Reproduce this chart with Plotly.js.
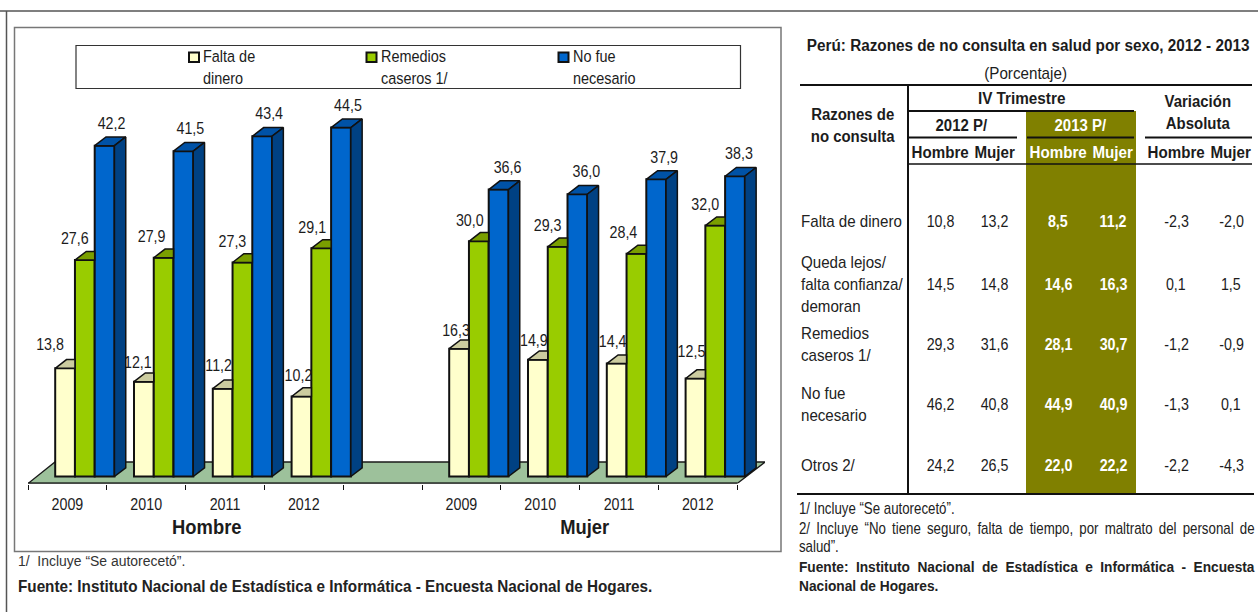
<!DOCTYPE html>
<html><head><meta charset="utf-8">
<script src="https://cdn.plot.ly/plotly-3.0.1.min.js"></script>
<style>html,body{margin:0;padding:0;background:#fff;overflow:hidden}</style>
</head><body><div id="chart" style="width:1258px;height:612px"></div>
<script>
// ---------- chart data ----------
const years = ['2009','2010','2011','2012','2009','2010','2011','2012'];
const slots = [0,1,2,3,5,6,7,8];
const groupNames = ['Hombre','Mujer'];
const faltaDinero = [13.8,12.1,11.2,10.2,16.3,14.9,14.4,12.5];
const remedios    = [27.6,27.9,27.3,29.1,30.0,29.3,28.4,32.0];
const noFue       = [42.2,41.5,43.4,44.5,36.6,36.0,37.9,38.3];
const legendNames = ['Falta de<br>dinero','Remedios<br>caseros 1/','No fue<br>necesario'];
// ---------- table data ----------
const rowLabels = ['Falta de dinero','Queda lejos/<br>falta confianza/<br>demoran','Remedios<br>caseros 1/','No fue<br>necesario','Otros 2/'];
const hombre2012 = [10.8,14.5,29.3,46.2,24.2];
const mujer2012  = [13.2,14.8,31.6,40.8,26.5];
const hombre2013 = [8.5,14.6,28.1,44.9,22.0];
const mujer2013  = [11.2,16.3,30.7,40.9,22.2];
const varHombre  = [-2.3,0.1,-1.2,-1.3,-2.2];
const varMujer   = [-2.0,1.5,-0.9,0.1,-4.3];

// ---------- layout constants ----------
const FONT = '"Liberation Sans",Arial,sans-serif';
const INK = '#1c1c1c';
const PX_X = 78.8, PX_Y = 7.84;            // pixels per axis unit
const BASE_PX = 476.5;
const DX = 11.3/PX_X, DY = 8.7/PX_Y;       // depth of the 3D effect
const BAR_W = 19.75/PX_X, BAR_START = 27.2/PX_X;
const NARROW = 0.84;                       // horizontal squeeze of the condensed look
const fmt = v => v.toFixed(1).replace('.',',');
const px = x => x/1258, py = y => 1-y/612;

const seriesVals = [faltaDinero, remedios, noFue];
const fronts = ['#FFFFCC','#99CC00','#0066CC'];
const tops   = ['#CCCC9F','#7A9F00','#0052A6'];
const sideBlue = '#004183';
const nudgeX = [[-15,-6,-4,-3,-3,-4,-4,-4],[-10,-12,-10,-9,-9,-10,-13,-10],[7,7,7,7,9,9,8,4]];
const lift   = [[23,18,22,20,17,18,21,26],[20,20,20,20,20,20,20,20],[21,21,21,21,21,21,21,21]];

const traces = [];
// front faces
seriesVals.forEach((vals,s)=>{
  traces.push({type:'bar',name:legendNames[s].replace('<br>',' '),x:slots.map(k=>k+BAR_START+(s+0.5)*BAR_W),y:vals,width:BAR_W,
    marker:{color:fronts[s],line:{color:'#111',width:2}},showlegend:false});
});
// data labels
seriesVals.forEach((vals,s)=>{
  traces.push({type:'scatter',mode:'text',x:slots.map((k,i)=>k+BAR_START+(s+0.5)*BAR_W+nudgeX[s][i]/PX_X),
    y:vals.map((v,i)=>v+lift[s][i]/PX_Y),text:vals.map(fmt),textposition:'middle center',
    textfont:{family:FONT,size:17,color:INK},hoverinfo:'skip',showlegend:false,cliponaxis:false});
});
// top and side faces
seriesVals.forEach((vals,s)=>{
  vals.forEach((v,i)=>{
    const a = slots[i]+BAR_START+s*BAR_W, b = a+BAR_W;
    const xsTop = s<2 ? [a,a+DX,b,b,a] : [a,a+DX,b+DX,b,a];
    traces.push({type:'scatter',mode:'lines',x:xsTop,y:[v,v+DY,v+DY,v,v],fill:'toself',fillcolor:tops[s],
      line:{color:'#111',width:1.5},hoverinfo:'skip',showlegend:false});
    if(s===2){
      traces.push({type:'scatter',mode:'lines',x:[b,b+DX,b+DX,b,b],y:[0,DY,v+DY,v,0],fill:'toself',fillcolor:sideBlue,
        line:{color:'#111',width:1.5},hoverinfo:'skip',showlegend:false});
    }
  });
});

// ---------- annotations & shapes ----------
const ann = [], annSqueeze = [], annJustify = [];
function T(x,y,text,o={}){
  ann.push({xref:'paper',yref:'paper',x:px(x),y:py(y),text,showarrow:false,xanchor:o.a||'center',yanchor:'middle',
    align:o.a==='left'?'left':'center',font:{family:FONT,size:o.s||17,color:o.c||INK},borderpad:0});
  annSqueeze.push(o.w||NARROW);
  annJustify.push(o.j||0);
}
const b = t=>'<b>'+t+'</b>';
const shapes = [];
function L(x0,y0,x1,y1,w=2,c='#111'){
  shapes.push({type:'line',xref:'paper',yref:'paper',x0:px(x0),y0:py(y0),x1:px(x1),y1:py(y1),line:{color:c,width:w},layer:'above'});
}
function R(x0,y0,x1,y1,fill,lc,lw,layer){
  shapes.push({type:'rect',xref:'paper',yref:'paper',x0:px(x0),y0:py(y0),x1:px(x1),y1:py(y1),fillcolor:fill,line:{color:lc,width:lw},layer:layer||'below'});
}
// frames
L(0,11,1258,11,1.5,'#555'); L(6.5,11,6.5,612,1.5,'#555');
R(14.5,27.5,781,551.5,'rgba(0,0,0,0)','#777',1.5);
// floor (drawn in data coordinates, under the bars)
const floorBack = (BASE_PX-462)/PX_Y, floorFront = -(483.5-BASE_PX)/PX_Y;
shapes.push({type:'path',xref:'x',yref:'y',layer:'below',fillcolor:'#9DC19B',line:{color:'#1a1a1a',width:1.3},
  path:`M0,${floorFront} L9,${floorFront} L${9+28/PX_X},${floorBack} L${27/PX_X},${floorBack} Z`});
shapes.push({type:'line',xref:'x',yref:'y',x0:0,x1:9,y0:floorFront,y1:floorFront,line:{color:'#111',width:2},layer:'above'});
// legend box
R(76,45.5,740.5,88.5,'#fff','#333',1.2);
[[189,202],[366.5,379.5],[558.5,572]].forEach((p,i)=>{
  R(p[0],52.5,p[0]+10,62,fronts[i],'#111',2,'above');
  T(p[1],67.5,legendNames[i],{a:'left',s:17,w:0.85});
});
// group titles
T(207,526.5,b(groupNames[0]),{s:20,w:0.92});
T(585,526.5,b(groupNames[1]),{s:20,w:0.92});
// left notes
T(17,560,'1/&nbsp; Incluye “Se autorecetó”.',{a:'left',s:15,w:0.93,c:'#333'});
T(17,586,b('Fuente: Instituto Nacional de Estadística e Informática - Encuesta Nacional de Hogares.'),{a:'left',s:16,w:0.955,c:'#222'});
// table
R(1026,111,1136,494,'#808000','#808000',0,'below');
T(1027.5,46,b('Perú: Razones de no consulta en salud por sexo, 2012 - 2013'),{s:17,w:0.9});
T(1025,73,'(Porcentaje)',{s:16,w:0.95});
L(800,85,1252,85); L(908,85,908,494); L(908,111,1134,111);
L(908,137.5,1017,137.5); L(1027,137.5,1134,137.5); L(1145,137.5,1252,137.5);
L(908,164,1252,164,1.5); L(797,494,1254,494);
T(853,125.5,b('Razones de<br>no consulta'),{w:0.88});
T(1021,99,b('IV Trimestre'),{w:0.9});
T(1198,112,b('Variación<br>Absoluta'),{w:0.88});
T(962,125.5,b('2012 P/'),{w:0.88});
T(1080,125.5,b('2013 P/'),{w:0.88,c:'#fff'});
const colX = [940,995,1058,1113,1176,1231];
['Hombre','Mujer','Hombre','Mujer','Hombre','Mujer'].forEach((t,i)=>T(colX[i],152,b(t),{w:0.89,c:(i===2||i===3)?'#fff':INK}));
const rowY = [221,284,344,404,465];
const cols = [hombre2012,mujer2012,hombre2013,mujer2013,varHombre,varMujer];
rowLabels.forEach((lab,r)=>{
  T(800,rowY[r],lab,{a:'left',w:0.89,c:'#222'});
  cols.forEach((c,i)=>{
    const olive = i===2||i===3;
    T(colX[i],rowY[r],olive?b(fmt(c[r])):fmt(c[r]),{c:olive?'#fff':INK});
  });
});
T(798,508,'1/ Incluye “Se autorecetó”.',{a:'left',s:16,w:0.83,c:'#222'});
T(798,528,'2/ Incluye “No tiene seguro, falta de tiempo, por maltrato del personal de',{a:'left',s:16,w:0.83,c:'#222',j:456});
T(798,546,'salud”.',{a:'left',s:16,w:0.83,c:'#222'});
T(798,566,b('Fuente: Instituto Nacional de Estadística e Informática - Encuesta'),{a:'left',s:15,w:0.915,c:'#222',j:456});
T(798,585,b('Nacional de Hogares.'),{a:'left',s:15,w:0.915,c:'#222'});

const layout = {
  width:1258,height:612,margin:{l:0,r:0,t:0,b:0},paper_bgcolor:'#fff',plot_bgcolor:'rgba(0,0,0,0)',
  showlegend:false,barmode:'overlay',
  xaxis:{domain:[px(28),px(765)],range:[0,737/PX_X],tickmode:'array',tickvals:slots.map(k=>k+0.5),ticktext:years,
    ticks:'',showgrid:false,zeroline:false,showline:false,ticklabelstandoff:9,
    tickfont:{family:FONT,size:17,color:INK},
    minor:{tickmode:'array',tickvals:[0,1,2,3,4,5,6,7,8,9],ticks:'outside',ticklen:5,tickwidth:1,tickcolor:'#111',showgrid:false}},
  yaxis:{domain:[py(483.5),py(60)],range:[-(483.5-BASE_PX)/PX_Y,(BASE_PX-60)/PX_Y],visible:false,showgrid:false,zeroline:false},
  annotations:ann,shapes
};
function squeeze(t,s){
  const x = parseFloat(t.getAttribute('x'))||0;
  const old = t.getAttribute('transform')||'';
  t.setAttribute('transform',`${old} translate(${x} 0) scale(${s} 1) translate(${-x} 0)`);
}
Plotly.newPlot('chart',traces,layout,{staticPlot:true,displayModeBar:false}).then(()=>{
  document.querySelectorAll('.annotation-text').forEach((t,i)=>{
    if(annJustify[i]){
      const gaps=t.textContent.split(' ').length-1, w=t.getComputedTextLength();
      t.style.wordSpacing=((annJustify[i]/annSqueeze[i]-w)/gaps)+'px';
    }
    squeeze(t,annSqueeze[i]);
  });
  document.querySelectorAll('.textpoint text, .xtick text').forEach(t=>squeeze(t,NARROW));
});
</script></body></html>
